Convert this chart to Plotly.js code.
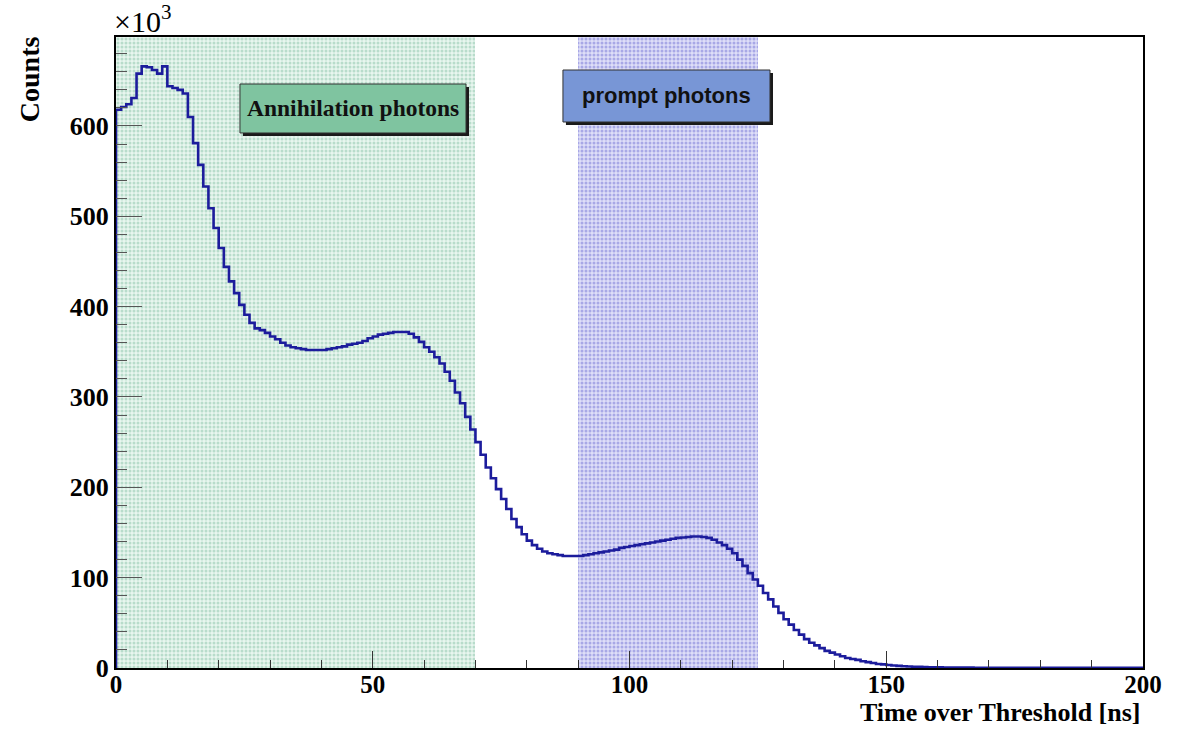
<!DOCTYPE html>
<html>
<head>
<meta charset="utf-8">
<script src="https://cdn.plot.ly/plotly-3.0.1.min.js"></script>
<style>html,body{margin:0;padding:0;background:#fff;}#chart{width:1183px;height:729px;}</style>
</head>
<body>
<div id="chart"></div>
<script>
// Histogram: Time over Threshold [ns], 1 ns bins from 0 to 200; counts in units of 10^3
const binLow = 0;
const binWidth = 1;
const counts = [
  618,621,624,631,658,666,665,662,658,666,
  644,642,640,636,610,581,557,533,509,487,
  465,444,428,415,402,391,382,376,374,371,
  367,364,360,357,355,354,353,352,352,352,
  352,353,354,355,356,358,359,360,362,365,
  367,369,370,371,372,372,372,370,366,361,
  355,350,344,337,328,318,305,293,278,264,
  250,236,222,210,198,187,176,165,156,148,
  141,136,132,129,127,126,125,124,124,124,
  124,125,126,127,128,129,130,131,133,134,
  135,136,137,138,139,140,141,142,143,144,
  144.5,145,145.5,145.5,145,144,142,139,136,132,
  127,120,113,105,98,91,83,76,68,61,
  54,48,42,37,32,28,25,22,19,17,
  15,13,11,10,9,7.5,6.5,5.5,4.5,4,
  3.3,2.8,2.3,2,1.7,1.4,1.2,1.0,0.9,0.8,
  0.7,0.6,0.55,0.5,0.45,0.42,0.38,0.35,0.33,0.3,
  0.28,0.27,0.26,0.25,0.24,0.23,0.22,0.21,0.2,0.2,
  0.19,0.18,0.18,0.17,0.16,0.16,0.15,0.15,0.14,0.14,
  0.13,0.13,0.12,0.12,0.12,0.11,0.11,0.1,0.1,0.1
];
// Selection windows [ns]
const windowNames = ["Annihilation photons", "prompt photons"];
const windowStart = [0, 90];
const windowEnd = [70, 125];
const xTickVals = [0, 50, 100, 150, 200];
const yTickVals = [0, 100, 200, 300, 400, 500, 600];
const yMax = 698.5;

const xs = [binLow], ys = [0];
counts.forEach((c, i) => { xs.push(binLow + i * binWidth); ys.push(c); });
xs.push(binLow + counts.length * binWidth); ys.push(counts[counts.length - 1]);

const serif = "Liberation Serif, Times New Roman, serif";
const sans = "Liberation Sans, Arial, Helvetica, sans-serif";

const bandBg = ['#e8f6ef', '#dedef8'];
const bandFg = ['#b8dccb', '#a8a8e6'];
const bands = windowStart.map((s, i) => ({
  type: 'bar', x: [(s + windowEnd[i]) / 2], y: [yMax], width: [windowEnd[i] - s], base: 0,
  marker: {color: bandBg[i], line: {width: 0},
    pattern: {shape: '.', fgcolor: bandFg[i], bgcolor: bandBg[i], size: 4, solidity: 0.45}},
  hoverinfo: 'skip', showlegend: false
}));

const trace = {
  x: xs, y: ys, type: 'scatter', mode: 'lines',
  line: {shape: 'hv', color: '#1c1c9c', width: 2.6},
  hoverinfo: 'skip', showlegend: false
};

const shapes = [];
// label boxes (paper coords) with drop shadows
const boxes = [
  {x0: 0.1207, x1: 0.3408, y0: 0.8479, y1: 0.9255, fill: '#7fc4a0'},
  {x0: 0.4352, x1: 0.6368, y0: 0.8653, y1: 0.9477, fill: '#7896d6'}
];
const dx = 3 / 1027, dy = 3 / 631;
boxes.forEach(b => {
  shapes.push({type: 'rect', xref: 'paper', yref: 'paper', x0: b.x0 + dx, x1: b.x1 + dx, y0: b.y0 - dy, y1: b.y1 - dy,
    fillcolor: '#1a1a1a', line: {width: 0}, layer: 'above'});
  shapes.push({type: 'rect', xref: 'paper', yref: 'paper', x0: b.x0, x1: b.x1, y0: b.y0, y1: b.y1,
    fillcolor: b.fill, line: {width: 1, color: '#333'}, layer: 'above'});
});

const annotations = [
  {text: windowNames[0], xref: 'paper', yref: 'paper', x: (boxes[0].x0 + boxes[0].x1) / 2, y: (boxes[0].y0 + boxes[0].y1) / 2,
   xanchor: 'center', yanchor: 'middle',
   showarrow: false, font: {family: serif, size: 23.5, color: '#111', weight: 700}},
  {text: windowNames[1], xref: 'paper', yref: 'paper', x: (boxes[1].x0 + boxes[1].x1) / 2, y: (boxes[1].y0 + boxes[1].y1) / 2,
   xanchor: 'center', yanchor: 'middle',
   showarrow: false, font: {family: sans, size: 22, color: '#111', weight: 700}},
  {text: '<span style="font-size:30px">×10</span><sup>3</sup>', xref: 'paper', yref: 'paper', x: -0.004, y: 0.995, xanchor: 'left', yanchor: 'bottom',
   showarrow: false, font: {family: serif, size: 30, color: '#000'}},
  {text: 'Counts', xref: 'paper', yref: 'paper', x: -0.084, y: 1.004, xanchor: 'center', yanchor: 'top', textangle: -90,
   showarrow: false, font: {family: serif, size: 28, color: '#000', weight: 700}},
  {text: 'Time over Threshold [ns]', xref: 'paper', yref: 'paper', x: 1.0, y: -0.0967, xanchor: 'right', yanchor: 'bottom',
   showarrow: false, font: {family: serif, size: 26, color: '#000', weight: 700}}
];

const layout = {
  width: 1183, height: 729,
  margin: {l: 116, r: 40, t: 37, b: 61},
  paper_bgcolor: '#fff', plot_bgcolor: '#fff',
  showlegend: false, barmode: 'overlay', bargap: 0,
  xaxis: {
    range: [0, 200], tickmode: 'array', tickvals: xTickVals, ticktext: xTickVals.map(String),
    ticks: 'inside', ticklen: 17, tickwidth: 1, tickcolor: '#333', ticklabelstandoff: -7,
    minor: {dtick: 10, ticks: 'inside', ticklen: 8, tickcolor: '#333', showgrid: false},
    showgrid: false, zeroline: false, showline: true, linecolor: '#000', linewidth: 2, mirror: true,
    tickfont: {family: serif, size: 25, color: '#000', weight: 700}
  },
  yaxis: {
    range: [0, yMax], tickmode: 'array', tickvals: yTickVals, ticktext: yTickVals.map(String),
    ticks: 'inside', ticklen: 26, tickwidth: 1, tickcolor: '#555',
    minor: {dtick: 20, ticks: 'inside', ticklen: 11, tickcolor: '#555', showgrid: false},
    showgrid: false, zeroline: false, showline: true, linecolor: '#000', linewidth: 2, mirror: true,
    tickfont: {family: serif, size: 26, color: '#000', weight: 700}
  },
  shapes: shapes,
  annotations: annotations
};

Plotly.newPlot('chart', bands.concat([trace]), layout, {displayModeBar: false, staticPlot: true});
</script>
</body>
</html>
